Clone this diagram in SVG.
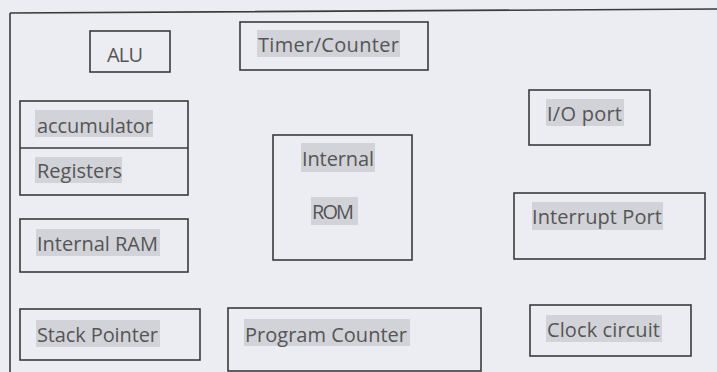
<svg xmlns="http://www.w3.org/2000/svg" width="717" height="372" viewBox="0 0 717 372">
<style>
.bg{fill:#ecedf2}
.box{fill:none;stroke:#3a3a3a;stroke-width:1.6}
.hl{fill:#d2d3d8}
text{font-family:"Open Sans","Liberation Sans",sans-serif;font-size:20px;fill:#555}
</style>
<rect class="bg" x="0" y="0" width="717" height="372"/>
<g id="frame"><path class="box" d="M10,13 L717,9 M10,13 L10,372"/></g>
<g id="alu"><rect class="box" x="90" y="31" width="80" height="41"/><text x="107" y="62" textLength="36">ALU</text></g>
<g id="timer"><rect class="box" x="240" y="22" width="188" height="48"/><rect class="hl" x="257" y="30" width="143" height="27"/><text x="258" y="52" textLength="141">Timer/Counter</text></g>
<g id="acc-reg"><rect class="box" x="20" y="101" width="168" height="94"/><line class="box" x1="20" y1="148" x2="188" y2="148"/>
<rect class="hl" x="35" y="110" width="118" height="27"/><text x="37" y="133" textLength="116">accumulator</text>
<rect class="hl" x="35" y="157" width="87" height="26"/><text x="37" y="178" textLength="85">Registers</text></g>
<g id="rom"><rect class="box" x="273" y="135" width="139" height="125"/><rect class="hl" x="301" y="143" width="74" height="29"/><text x="302" y="166" textLength="72">Internal</text><rect class="hl" x="311" y="197" width="47" height="28"/><text x="312" y="219" textLength="42">ROM</text></g>
<g id="io"><rect class="box" x="529" y="90" width="121" height="55"/><rect class="hl" x="546" y="99" width="78" height="27"/><text x="547" y="121" textLength="75">I/O port</text></g>
<g id="int"><rect class="box" x="514" y="193" width="191" height="66"/><rect class="hl" x="532" y="202" width="131" height="28"/><text x="532" y="224" textLength="130">Interrupt Port</text></g>
<g id="ram"><rect class="box" x="20" y="219" width="168" height="53"/><rect class="hl" x="36" y="229" width="124" height="27"/><text x="37" y="251" textLength="121">Internal RAM</text></g>
<g id="sp"><rect class="box" x="20" y="309" width="180" height="51"/><rect class="hl" x="36" y="320" width="124" height="27"/><text x="37" y="342" textLength="121">Stack Pointer</text></g>
<g id="pc"><rect class="box" x="228" y="308" width="253" height="63"/><rect class="hl" x="244" y="319" width="166" height="27"/><text x="245" y="342" textLength="162">Program Counter</text></g>
<g id="clk"><rect class="box" x="530" y="305" width="161" height="51"/><rect class="hl" x="546" y="315" width="116" height="27"/><text x="547" y="337" textLength="113">Clock circuit</text></g>
<g id="connectors"/>
</svg>
